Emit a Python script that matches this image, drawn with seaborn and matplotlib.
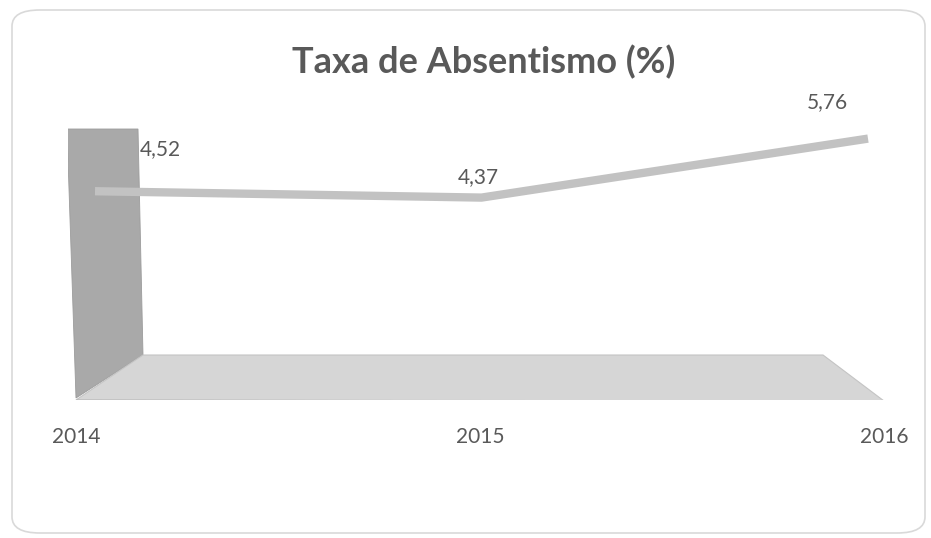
import matplotlib
matplotlib.use("Agg")
import matplotlib.pyplot as plt
from matplotlib.patches import Polygon, FancyBboxPatch
import seaborn as sns
import pandas as pd

# Data
years = [2014, 2015, 2016]
rates = [4.52, 4.37, 5.76]
labels = ["4,52", "4,37", "5,76"]
tick_labels = ["2014", "2015", "2016"]
title = "Taxa de Absentismo (%)"

W, H = 931, 538
sns.set_theme(style="white")
plt.rcParams["font.family"] = ["Lato", "DejaVu Sans"]

fig = plt.figure(figsize=(W / 100, H / 100), dpi=100)
fig.patch.set_facecolor("white")


def fpx(x, y):
    """Pixel position (from top-left) to figure fraction."""
    return (x / W, 1 - y / H)


# rounded chart frame
frame = FancyBboxPatch(fpx(12, 533), (925 - 12) / W, (533 - 10) / H,
                       boxstyle="round,pad=0,rounding_size=0.03",
                       transform=fig.transFigure, facecolor="white",
                       edgecolor="#d9d9d9", linewidth=1.2, zorder=-10)
fig.patches.append(frame)

# back plane: holds the series
ax = fig.add_axes([68 / W, 1 - 400 / H, (885 - 68) / W, (400 - 128) / H])
ax.set_zorder(1)
ax.set_facecolor("none")
ax.set_xlim(2014 - 27 / 386.5, 2016 + 17 / 386.5)
ax.set_ylim(-0.40, 6.01)
for s in ax.spines.values():
    s.set_visible(False)
ax.set_xticks([])
ax.set_yticks([])

# 3D style side wall and floor
wall = Polygon([fpx(67, 129), fpx(138, 129), fpx(143, 355), fpx(76, 398)],
               closed=True, transform=fig.transFigure, facecolor="#a9a9a9",
               edgecolor="#9c9c9c", linewidth=0.6, zorder=1)
floor = Polygon([fpx(143, 355), fpx(823, 355), fpx(884, 401), fpx(76, 400)],
                closed=True, transform=fig.transFigure, facecolor="#d6d6d6",
                edgecolor="#c4c4c4", linewidth=0.8, zorder=1)
ax.add_artist(wall)
ax.add_artist(floor)
# darker front edge of the floor
ax.plot([76 / W, 884 / W], [1 - 400.5 / H, 1 - 401 / H], transform=fig.transFigure,
        color="#a0a0a0", linewidth=1.0, zorder=2)

# the series ribbon
df = pd.DataFrame({"Ano": years, "Taxa": rates})
sns.lineplot(data=df, x="Ano", y="Taxa", ax=ax, color="#c2c2c2",
             linewidth=6.0, solid_capstyle="butt", solid_joinstyle="round",
             zorder=3, legend=False)
for line in ax.get_lines()[-1:]:
    line.set_clip_on(False)
ax.set_xlabel("")
ax.set_ylabel("")

# data labels
offsets = [(47, 30), (-2, 14.5), (-29, 26)]
for x, y, lab, off in zip(years, rates, labels, offsets):
    ax.annotate(lab, (x, y), xytext=off, textcoords="offset points",
                ha="center", va="center", fontsize=15, color="#595959",
                zorder=4)

# front edge of the floor: category axis
axf = fig.add_axes([76 / W, 1 - 401 / H, (884 - 76) / W, 0.001])
axf.set_facecolor("none")
axf.set_xlim(2014, 2016)
for s in axf.spines.values():
    s.set_visible(False)
axf.set_yticks([])
axf.set_xticks(years)
axf.set_xticklabels(tick_labels, fontsize=15, color="#595959")
axf.tick_params(axis="x", length=0, pad=19)

fig.text(484 / W, 1 - 62 / H, title, ha="center", va="center",
         fontsize=26, fontweight="bold", color="#595959")

fig.savefig("out.png", dpi=100, facecolor="white")
